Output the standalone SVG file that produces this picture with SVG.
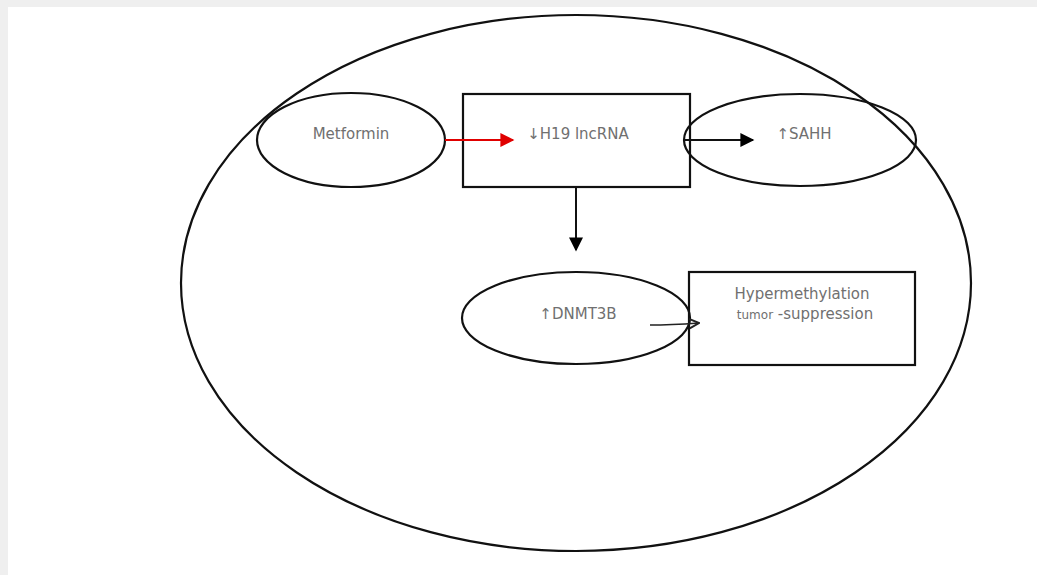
<svg xmlns="http://www.w3.org/2000/svg" width="1037" height="575" viewBox="0 0 1037 575">
<defs>
<marker id="ah" viewBox="0 0 10 10" refX="9" refY="5" markerWidth="7.5" markerHeight="7" orient="auto" markerUnits="strokeWidth"><path d="M0,0 L10,5 L0,10 z" fill="#000"/></marker>
<marker id="ahr" viewBox="0 0 10 10" refX="9" refY="5" markerWidth="7.5" markerHeight="7" orient="auto" markerUnits="strokeWidth"><path d="M0,0 L10,5 L0,10 z" fill="#e00000"/></marker>
<marker id="ao" viewBox="0 0 10 10" refX="9" refY="5" markerWidth="8" markerHeight="8" orient="auto" markerUnits="strokeWidth"><path d="M1,1 L9,5 L1,9" fill="none" stroke="#222" stroke-width="1.6"/></marker>
</defs>
<style>
.s{fill:none;stroke:#111;stroke-width:2.2}
.t{font-family:"DejaVu Sans",sans-serif;font-size:15px;fill:#707070;text-anchor:middle}
</style>
<rect width="1037" height="575" fill="#efefef"/>
<rect x="8" y="7" width="1029" height="568" fill="#fff"/>
<g id="cell"><ellipse class="s" cx="576" cy="283" rx="395" ry="268"/></g>
<g id="metformin"><ellipse class="s" cx="351" cy="140" rx="94" ry="47"/><text class="t" x="351" y="139">Metformin</text></g>
<g id="h19"><rect class="s" x="463" y="94" width="227" height="93"/><text class="t" x="578" y="139">↓H19 lncRNA</text></g>
<g id="sahh"><ellipse class="s" cx="800" cy="140" rx="116" ry="46"/><text class="t" x="804" y="139">↑SAHH</text></g>
<g id="dnmt3b"><ellipse class="s" cx="576" cy="318" rx="114" ry="46"/><text class="t" x="578" y="319">↑DNMT3B</text></g>
<g id="hyper"><rect class="s" x="689" y="272" width="226" height="93"/><text class="t" x="802" y="299">Hypermethylation</text><text class="t" x="805" y="319"><tspan font-size="12">tumor</tspan> -suppression</text></g>
<g id="connectors">
<line x1="445" y1="140" x2="513" y2="140" stroke="#e00000" stroke-width="2" marker-end="url(#ahr)"/>
<line x1="684" y1="140" x2="753" y2="140" stroke="#111" stroke-width="2" marker-end="url(#ah)"/>
<line x1="576" y1="187" x2="576" y2="250" stroke="#111" stroke-width="2" marker-end="url(#ah)"/>
<path d="M650,325 Q670,325 699,323" fill="none" stroke="#222" stroke-width="1.5" marker-end="url(#ao)"/>
</g>
</svg>
